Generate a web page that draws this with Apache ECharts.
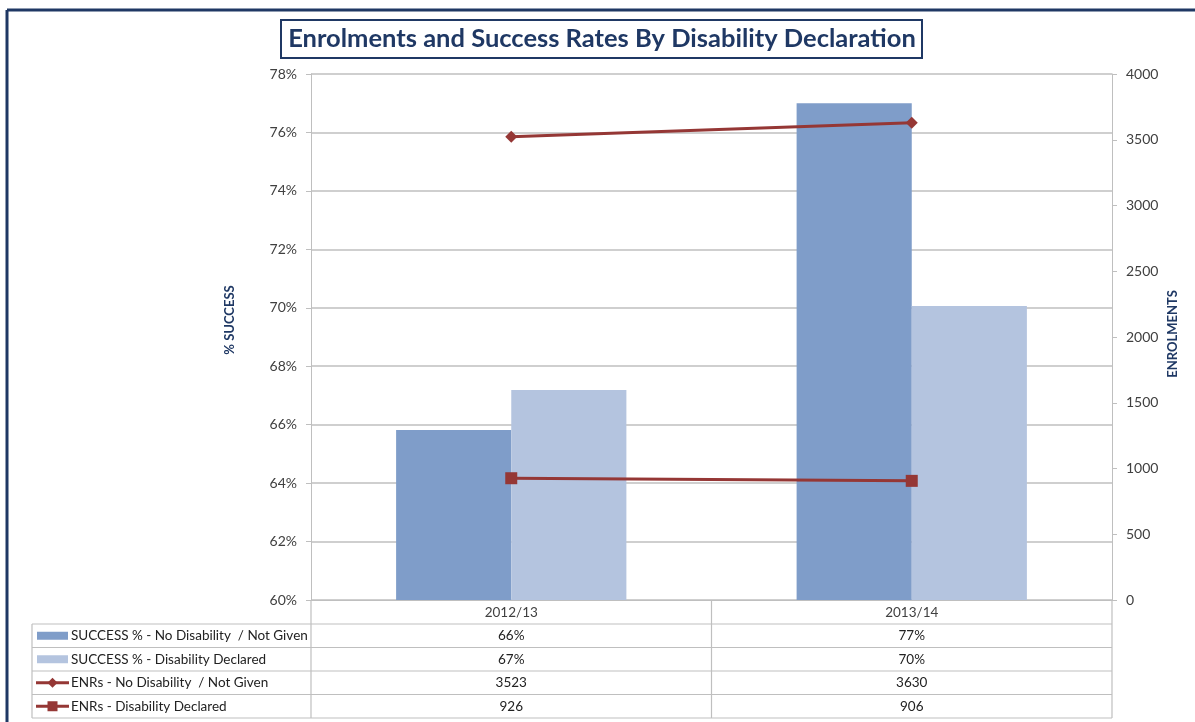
<!DOCTYPE html>
<html>
<head>
<meta charset="utf-8">
<script src="https://cdn.jsdelivr.net/npm/echarts@6/dist/echarts.min.js"></script>
<style>
  html, body { margin: 0; padding: 0; background: #fff; }
  #chart { width: 1195px; height: 722px; }
</style>
</head>
<body>
<div id="chart"></div>
<script>
// Academic years
const years = ['2012/13', '2013/14'];

// Success rates (%), left axis
const successNoDisability = [65.82, 77.0];
const successDeclared = [67.19, 70.06];

// Enrolments, right axis
const enrNoDisability = [3523, 3630];
const enrDeclared = [926, 906];

// Data table row labels and the values shown in the cells
const seriesNames = [
  'SUCCESS % - No Disability  / Not Given',
  'SUCCESS % - Disability Declared',
  'ENRs - No Disability  / Not Given',
  'ENRs - Disability Declared'
];
const tableSuccessNo = ['66%', '77%'];
const tableSuccessDecl = ['67%', '70%'];
const tableEnrNo = ['3523', '3630'];
const tableEnrDecl = ['926', '906'];

const FONT = 'Lato, "Open Sans", sans-serif';
const NAVY = '#1F3864';
const BAR_DARK = '#7F9DC9';
const BAR_LIGHT = '#B4C4DF';
const LINE_RED = '#953735';
const GRID_GRAY = '#BFBFBF';

const chart = echarts.init(document.getElementById('chart'), null, { renderer: 'canvas' });

const option = {
  animation: false,
  backgroundColor: '#fff',
  grid: { left: 311, right: 83, top: 74, bottom: 122, containLabel: false },
  xAxis: {
    type: 'category',
    data: years,
    axisLine: { lineStyle: { color: GRID_GRAY, width: 1 } },
    axisTick: { show: false },
    axisLabel: { color: '#404040', fontSize: 13.5, fontFamily: FONT, margin: 6 }
  },
  yAxis: [
    {
      type: 'value',
      min: 60, max: 78, interval: 2,
      axisLine: { show: true, lineStyle: { color: GRID_GRAY } },
      axisTick: { show: true, length: 5, lineStyle: { color: GRID_GRAY } },
      axisLabel: { formatter: '{value}%', color: '#404040', fontSize: 14, fontFamily: FONT, margin: 14 },
      splitLine: { show: true, lineStyle: { color: GRID_GRAY, width: 1.5 } }
    },
    {
      type: 'value',
      min: 0, max: 4000, interval: 500,
      axisLine: { show: true, lineStyle: { color: GRID_GRAY } },
      axisTick: { show: true, length: 5, lineStyle: { color: GRID_GRAY } },
      axisLabel: { formatter: v => String(v), color: '#404040', fontSize: 14, fontFamily: FONT, margin: 14 },
      splitLine: { show: false }
    }
  ],
  series: [
    {
      name: seriesNames[0], type: 'bar', yAxisIndex: 0,
      data: successNoDisability,
      barGap: '0%', barCategoryGap: '42.5%',
      itemStyle: { color: BAR_DARK }
    },
    {
      name: seriesNames[1], type: 'bar', yAxisIndex: 0,
      data: successDeclared,
      barGap: '0%', barCategoryGap: '42.5%',
      itemStyle: { color: BAR_LIGHT }
    },
    {
      name: seriesNames[2], type: 'line', yAxisIndex: 1,
      data: enrNoDisability,
      symbol: 'diamond', symbolSize: 12,
      lineStyle: { color: LINE_RED, width: 3 },
      itemStyle: { color: LINE_RED }
    },
    {
      name: seriesNames[3], type: 'line', yAxisIndex: 1,
      data: enrDeclared,
      symbol: 'rect', symbolSize: 12,
      lineStyle: { color: LINE_RED, width: 3 },
      itemStyle: { color: LINE_RED }
    }
  ]
};

chart.setOption(option);

// Build frame, title box, axis titles and the data table underneath the plot
function buildOverlay() {
  const gridModel = chart.getModel().getComponent('grid', 0);
  const rect = gridModel.coordinateSystem.getRect();
  const left = rect.x, right = rect.x + rect.width, bottom = rect.y + rect.height;
  const tableLeft = 32;
  const headerH = 24;
  const rowH = 23.5;
  const rowCount = seriesNames.length;
  const tableBottom = bottom + headerH + rowH * rowCount;
  const mid = (chart.convertToPixel({ xAxisIndex: 0 }, years[0]) + chart.convertToPixel({ xAxisIndex: 0 }, years[1])) / 2;

  const elements = [];
  const lineStyle = { stroke: GRID_GRAY, lineWidth: 1.2 };

  // outer frame
  elements.push({ type: 'line', shape: { x1: 7, y1: 10, x2: 1195, y2: 10 }, style: { stroke: NAVY, lineWidth: 3 } });
  elements.push({ type: 'line', shape: { x1: 7, y1: 10, x2: 7, y2: 722 }, style: { stroke: NAVY, lineWidth: 3 } });

  // title box
  elements.push({ type: 'rect', shape: { x: 281, y: 20, width: 641, height: 38 }, style: { fill: '#fff', stroke: NAVY, lineWidth: 2 } });
  elements.push({
    type: 'text', x: 602, y: 39,
    style: { text: 'Enrolments and Success Rates By Disability Declaration', font: 'bold 25.5px ' + FONT, fill: NAVY, align: 'center', verticalAlign: 'middle' }
  });

  // axis titles, reading bottom to top
  elements.push({
    type: 'text', x: 230, y: 320, rotation: Math.PI / 2,
    style: { text: '% SUCCESS', font: 'bold 13px ' + FONT, fill: NAVY, align: 'center', verticalAlign: 'middle' }
  });
  elements.push({
    type: 'text', x: 1173, y: 334, rotation: Math.PI / 2,
    style: { text: 'ENROLMENTS', font: 'bold 13px ' + FONT, fill: NAVY, align: 'center', verticalAlign: 'middle' }
  });

  // table grid
  elements.push({ type: 'line', shape: { x1: left, y1: bottom, x2: left, y2: tableBottom }, style: lineStyle });
  elements.push({ type: 'line', shape: { x1: mid, y1: bottom, x2: mid, y2: tableBottom }, style: lineStyle });
  elements.push({ type: 'line', shape: { x1: right, y1: bottom, x2: right, y2: tableBottom }, style: lineStyle });
  elements.push({ type: 'line', shape: { x1: tableLeft, y1: bottom + headerH, x2: tableLeft, y2: tableBottom }, style: lineStyle });
  for (let i = 0; i <= rowCount; i++) {
    const y = bottom + headerH + rowH * i;
    elements.push({ type: 'line', shape: { x1: tableLeft, y1: y, x2: right, y2: y }, style: lineStyle });
  }

  const cells = [tableSuccessNo, tableSuccessDecl, tableEnrNo, tableEnrDecl];
  for (let r = 0; r < rowCount; r++) {
    const cy = bottom + headerH + rowH * r + rowH / 2;
    // legend key
    if (r < 2) {
      elements.push({ type: 'rect', shape: { x: 37, y: cy - 4, width: 31, height: 8 }, style: { fill: r === 0 ? BAR_DARK : BAR_LIGHT } });
    } else {
      elements.push({ type: 'line', shape: { x1: 36, y1: cy, x2: 69, y2: cy }, style: { stroke: LINE_RED, lineWidth: 3 } });
      if (r === 2) {
        elements.push({ type: 'polygon', shape: { points: [[52.5, cy - 5], [57.5, cy], [52.5, cy + 5], [47.5, cy]] }, style: { fill: LINE_RED } });
      } else {
        elements.push({ type: 'rect', shape: { x: 47.5, y: cy - 5, width: 10, height: 10 }, style: { fill: LINE_RED } });
      }
    }
    elements.push({
      type: 'text', x: 71, y: cy,
      style: { text: seriesNames[r], font: '13.5px ' + FONT, fill: '#222', align: 'left', verticalAlign: 'middle' }
    });
    for (let c = 0; c < years.length; c++) {
      const cx = chart.convertToPixel({ xAxisIndex: 0 }, years[c]);
      elements.push({
        type: 'text', x: cx, y: cy,
        style: { text: cells[r][c], font: '13.5px ' + FONT, fill: '#222', align: 'center', verticalAlign: 'middle' }
      });
    }
  }

  chart.setOption({ graphic: { elements: elements } });
}

buildOverlay();
</script>
</body>
</html>
